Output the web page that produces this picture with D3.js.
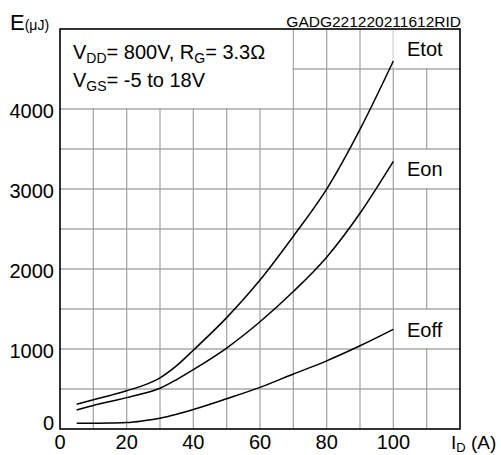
<!DOCTYPE html>
<html>
<head>
<meta charset="utf-8">
<script src="https://cdn.jsdelivr.net/npm/d3@7"></script>
<style>
  body { margin: 0; background: #fff; }
  text { font-family: "Liberation Sans", Arial, sans-serif; fill: #000; }
</style>
</head>
<body>
<svg id="chart" width="501" height="455"></svg>
<script>
// drain current (A)
var current = [5, 10, 15, 20, 25, 30, 35, 40, 50, 60, 70, 80, 90, 100];
// switching energies (uJ)
var eTot = [310, 365, 420, 478, 545, 640, 792, 985, 1392, 1862, 2410, 2998, 3745, 4600];
var eOn  = [237, 294, 343, 392, 443, 510, 618, 742, 1012, 1340, 1718, 2148, 2697, 3345];
var eOff = [71, 72, 75, 80, 102, 135, 185, 244, 378, 520, 687, 852, 1040, 1246];

var xTicks = [0, 20, 40, 60, 80, 100];
var yTicks = [0, 1000, 2000, 3000, 4000];
var seriesNames = ["Etot", "Eon", "Eoff"];

var svg = d3.select("#chart");

var x = d3.scaleLinear().domain([0, 120]).range([60, 460]);
var y = d3.scaleLinear().domain([0, 5000]).range([429, 29]);

// grid
var grid = svg.append("g").attr("stroke", "#a8a8a8").attr("stroke-width", 1.3);
d3.range(10, 120, 10).forEach(function(v){
  grid.append("line").attr("x1", x(v)).attr("x2", x(v)).attr("y1", y(0)).attr("y2", y(5000));
});
d3.range(500, 5000, 500).forEach(function(v){
  grid.append("line").attr("x1", x(0)).attr("x2", x(120)).attr("y1", y(v)).attr("y2", y(v));
});

// white label backgrounds that hide the grid
function blank(x0, x1, y0, y1, inset){
  svg.append("rect")
    .attr("x", x(x0) + inset).attr("y", y(y1) + inset)
    .attr("width", x(x1) - x(x0) - 1 - inset)
    .attr("height", y(y0) - y(y1) - 1 - inset)
    .attr("fill", "#fff");
}
blank(0, 70, 4000, 5000, 0);
blank(100, 120, 4500, 5000, 0);
blank(100, 120, 3000, 3500, 1);
blank(100, 120, 1000, 1500, 1);

// curves
var line = d3.line()
  .x(function(d){ return x(d[0]); })
  .y(function(d){ return y(d[1]); })
  .curve(d3.curveMonotoneX);

[eTot, eOn, eOff].forEach(function(s){
  svg.append("path")
    .datum(current.map(function(c, i){ return [c, s[i]]; }))
    .attr("d", line)
    .attr("fill", "none")
    .attr("stroke", "#000")
    .attr("stroke-width", 1.5);
});

// frame
svg.append("rect")
  .attr("x", x(0)).attr("y", y(5000))
  .attr("width", x(120) - x(0)).attr("height", y(0) - y(5000))
  .attr("fill", "none").attr("stroke", "#000").attr("stroke-width", 1.6);

// tick labels
svg.selectAll(".xt").data(xTicks).enter().append("text")
  .attr("x", function(d){ return x(d); })
  .attr("y", 449)
  .attr("text-anchor", "middle")
  .attr("font-size", 20)
  .text(function(d){ return d; });

svg.selectAll(".yt").data(yTicks).enter().append("text")
  .attr("x", 54)
  .attr("y", function(d){ return y(d) + (d === 0 ? 1 : 8.5); })
  .attr("text-anchor", "end")
  .attr("font-size", 20)
  .text(function(d){ return d; });

// axis titles
var yt = svg.append("text").attr("x", 10).attr("y", 30).attr("font-size", 22);
yt.append("tspan").text("E");
yt.append("tspan").attr("font-size", 14).attr("dy", 0).text("(μJ)");

var xt = svg.append("text").attr("x", 451).attr("y", 449).attr("font-size", 19);
xt.append("tspan").text("I");
xt.append("tspan").attr("font-size", 13).attr("dy", 2.7).text("D");
xt.append("tspan").attr("dy", -2.7).text(" (A)");

svg.append("text").attr("x", 461).attr("y", 26.5).attr("text-anchor", "end")
  .attr("font-size", 15.5).text("GADG221220211612RID");

// conditions
var c1 = svg.append("text").attr("x", 73).attr("y", 59.3).attr("font-size", 20);
c1.append("tspan").text("V");
c1.append("tspan").attr("font-size", 14).attr("dy", 4).text("DD");
c1.append("tspan").attr("dy", -4).text("= 800V, R");
c1.append("tspan").attr("font-size", 14).attr("dy", 4).text("G");
c1.append("tspan").attr("dy", -4).text("= 3.3Ω");

var c2 = svg.append("text").attr("x", 73).attr("y", 87.3).attr("font-size", 20);
c2.append("tspan").text("V");
c2.append("tspan").attr("font-size", 14).attr("dy", 4).text("GS");
c2.append("tspan").attr("dy", -4).text("= -5 to 18V");

// series labels
var labelY = [4660, 3160, 1150];
seriesNames.forEach(function(n, i){
  svg.append("text").attr("x", 407).attr("y", y(labelY[i])).attr("font-size", 20).text(n);
});
</script>
</body>
</html>
